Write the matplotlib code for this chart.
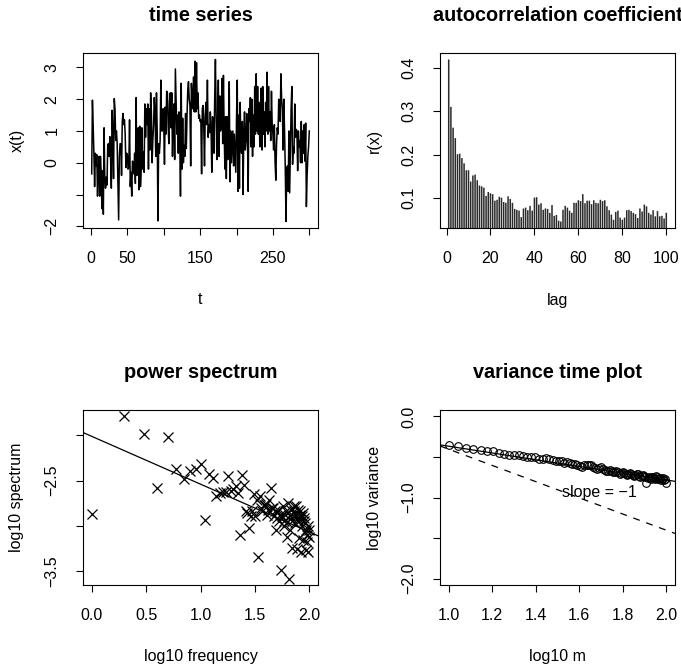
import matplotlib.pyplot as plt
import numpy as np

plt.rcParams['font.family'] = ['Liberation Sans', 'DejaVu Sans']

# serie temporal x(t), t = 1..300
serie = [
    -0.35, 1.97, 1.2, 0.3, -0.75, 0.3, -0.1, 0.25, -1.05, -0.2,
    0.2, -1.05, 0.2, -0.3, -1.45, -0.25, -1.62, 1.1, -0.5, -0.8,
    -0.45, -0.7, 0.55, 0.6, 0.2, 0.82, 0.1, -0.8, 1.65, 0.9,
    -0.5, 2.02, 1.7, 0.7, 1.0, 0.6, -0.6, -1.8, 0.2, 0.6,
    0.6, -0.4, 1.3, 1.55, 1.2, 1.35, 0.9, -0.15, 0.3, 0.25,
    -0.2, -0.15, 1.35, -0.75, -0.3, -1.05, 0.05, 0.0, -0.35, 0.3,
    -0.65, 2.05, -0.4, 0.6, 1.1, -0.85, 1.15, -0.75, -0.2, 1.1,
    -0.2, 0.35, -0.3, 1.85, 0.8, 1.7, 1.2, 1.85, -0.2, 1.7,
    0.4, 2.2, 1.6, 0.0, 0.7, 1.2, 2.05, 1.6, 0.2, 2.2,
    1.0, -1.83, 0.6, 0.3, 0.7, 2.6, 1.0, 1.0, 1.7, 1.2,
    -0.05, 1.75, 0.9, 2.25, 2.2, 1.2, 0.6, 1.95, 2.2, 1.1,
    2.2, 0.2, 1.3, 1.85, 0.1, 2.95, 1.9, 0.9, 1.5, 0.3,
    1.6, 0.9, -1.05, 2.5, -0.2, 1.4, 0.0, 0.55, 0.2, 1.55,
    0.45, 1.5, 2.3, 2.55, 2.0, 1.8, -0.1, 2.5, 2.0, 1.7,
    2.7, 1.6, 3.2, 1.6, 3.15, 1.7, 2.2, 1.4, 1.5, 1.3,
    1.35, -0.35, 1.7, 1.8, 1.1, -0.1, 1.5, 1.9, 1.2, 2.6,
    0.8, 1.2, 0.95, 1.6, 1.1, -0.3, 1.45, 1.3, 0.3, 2.0,
    3.25, 1.5, 0.1, 1.2, 2.6, 0.2, 2.1, 1.0, 1.2, 2.65,
    0.6, 2.75, 1.0, -0.2, 1.45, -0.5, 1.45, 0.1, 1.2, 2.55,
    -0.6, 1.0, 0.0, 0.5, 1.0, -0.1, 0.9, 0.3, -0.3, 1.4,
    2.6, -0.9, 1.5, -0.8, 1.9, 0.5, 0.3, 1.3, -1.0, 0.9,
    1.6, 0.4, 0.7, 1.55, 0.8, -0.9, 1.7, 1.3, 2.05, 0.5,
    2.0, 0.2, 1.5, 0.5, 2.4, 0.9, 2.8, 1.0, 2.4, 0.9,
    1.9, 0.5, 1.3, 2.35, 0.4, 2.4, 0.9, 1.6, 0.5, 1.9,
    1.0, 2.85, 0.9, 2.4, 1.0, 1.6, 0.7, 2.25, 1.2, 0.9,
    0.4, 1.2, 0.0, -0.55, 0.6, 1.1, 0.9, 2.0, 1.6, 1.3,
    2.8, 2.0, 1.7, 0.4, 2.0, 1.0, -0.2, -1.85, -0.2, -0.1,
    -0.9, 1.0, -0.95, 0.3, 1.7, 2.4, -0.05, 0.5, 0.3, 1.85,
    0.8, 1.05, 1.0, -0.25, 1.0, 0.5, 0.7, 0.0, 1.3, 0.0,
    1.0, 0.3, 1.2, 0.05, 1.25, -1.38, -0.4, 0.2, 0.5, 1.0,
]

# autocorrelacao r(x), lag = 1..100
acf = [
    0.419, 0.310, 0.262, 0.238, 0.201, 0.202, 0.192, 0.180, 0.164, 0.164,
    0.138, 0.152, 0.154, 0.141, 0.129, 0.127, 0.124, 0.105, 0.114, 0.111,
    0.109, 0.094, 0.096, 0.103, 0.101, 0.091, 0.089, 0.104, 0.098, 0.089,
    0.075, 0.073, 0.071, 0.056, 0.076, 0.078, 0.072, 0.082, 0.071, 0.101,
    0.102, 0.085, 0.088, 0.073, 0.076, 0.075, 0.066, 0.084, 0.059, 0.061,
    0.048, 0.046, 0.073, 0.082, 0.078, 0.071, 0.066, 0.089, 0.089, 0.095,
    0.093, 0.109, 0.088, 0.094, 0.094, 0.086, 0.095, 0.089, 0.088, 0.096,
    0.093, 0.095, 0.081, 0.072, 0.062, 0.050, 0.068, 0.071, 0.055, 0.050,
    0.055, 0.072, 0.073, 0.070, 0.066, 0.063, 0.054, 0.076, 0.069, 0.085,
    0.081, 0.066, 0.062, 0.072, 0.058, 0.070, 0.058, 0.059, 0.053, 0.066,
]

# log10 do espectro, frequencia k = 1..100
espectro = [
    -2.872, -1.790, -1.980, -2.586, -2.013, -2.370, -2.478, -2.396, -2.377, -2.322,
    -2.935, -2.422, -2.470, -2.675, -2.638, -2.630, -2.630, -2.452, -2.619, -2.593,
    -2.556, -2.638, -3.102, -2.444, -2.552, -2.842, -2.861, -3.028, -2.898, -2.842,
    -2.645, -2.898, -2.712, -3.351, -2.675, -2.805, -2.842, -2.768, -2.768, -2.757,
    -2.879, -2.823, -2.719, -2.582, -2.805, -2.805, -2.898, -2.842, -3.046, -2.916,
    -2.853, -2.823, -2.953, -2.879, -3.493, -2.898, -2.786, -3.009, -2.953, -2.879,
    -2.842, -3.121, -2.965, -2.749, -3.586, -2.898, -3.046, -2.823, -2.953, -3.251,
    -2.898, -2.786, -2.842, -2.972, -2.879, -2.786, -3.262, -2.916, -2.823, -2.953,
    -3.139, -2.879, -2.842, -3.288, -2.898, -3.009, -2.861, -3.158, -2.953, -2.916,
    -3.065, -2.972, -3.270, -3.046, -3.176, -3.102, -3.009, -3.288, -3.121, -3.046,
]
ajuste_espectro = (-2.01, -0.53)   # intercepto, inclinacao

# log10 da variancia, m = 10..100
variancia = [
    -0.349, -0.361, -0.385, -0.405, -0.408, -0.420, -0.432, -0.450, -0.462, -0.472,
    -0.474, -0.480, -0.488, -0.497, -0.494, -0.500, -0.520, -0.530, -0.512, -0.528,
    -0.540, -0.548, -0.545, -0.552, -0.568, -0.556, -0.575, -0.585, -0.592, -0.596,
    -0.612, -0.621, -0.605, -0.600, -0.596, -0.605, -0.625, -0.640, -0.651, -0.635,
    -0.628, -0.648, -0.660, -0.672, -0.668, -0.660, -0.675, -0.690, -0.682, -0.676,
    -0.690, -0.708, -0.700, -0.688, -0.695, -0.712, -0.720, -0.705, -0.698, -0.710,
    -0.725, -0.735, -0.718, -0.708, -0.716, -0.732, -0.745, -0.740, -0.726, -0.738,
    -0.752, -0.815, -0.755, -0.742, -0.760, -0.770, -0.750, -0.745, -0.762, -0.770,
    -0.735, -0.752, -0.775, -0.765, -0.758, -0.778, -0.770, -0.760, -0.782, -0.775,
    -0.820,
]
ajuste_variancia = (-0.367, -0.417)   # valor em log10 m = 1, inclinacao
MENOS = '\u2212'
FS = 11.5

W, H = 681, 669
fig = plt.figure(figsize=(W / 100, H / 100), dpi=100)


def caixa(esq, topo, dir, base):
    """Eixos posicionados em pixels (origem no canto superior esquerdo)."""
    return fig.add_axes([esq / W, 1 - base / H, (dir - esq) / W, (base - topo) / H])


def estilo(ax, titulo, xlab, ylab, xt, xl, yt, yl):
    ax.set_title(titulo, fontsize=14.3, fontweight='bold', pad=23)
    ax.set_xticks(xt, xl)
    ax.set_yticks(yt, yl)
    ax.tick_params(direction='out', length=4.8, width=0.8, labelsize=FS, pad=12)
    ax.tick_params(axis='y', labelrotation=90)
    for lab in ax.get_yticklabels():
        lab.set_va('center')
    for sp in ax.spines.values():
        sp.set_linewidth(0.8)
    ax.set_xlabel(xlab, fontsize=FS, va='center')
    ax.xaxis.set_label_coords(0.5, -72 / 175)
    ax.set_ylabel(ylab, fontsize=FS, va='center')
    ax.yaxis.set_label_coords(-66 / 235, 0.5)


def fmt(v, casas):
    s = f'{v:.{casas}f}'
    return s.replace('-', MENOS)


# --- serie temporal
ax1 = caixa(83, 53, 318, 228)
t = np.arange(1, len(serie) + 1)
ax1.plot(t, serie, color='black', lw=1.1)
n = len(serie)
ax1.set_xlim(1 - 0.04 * (n - 1), n + 0.04 * (n - 1))
lo, hi = min(serie), max(serie)
ax1.set_ylim(lo - 0.04 * (hi - lo), hi + 0.04 * (hi - lo))
estilo(ax1, 'time series', 't', 'x(t)',
       [0, 50, 100, 150, 200, 250, 300], ['0', '50', '', '150', '', '250', ''],
       [-2, -1, 0, 1, 2, 3], [MENOS + '2', '', '0', '1', '2', '3'])

# --- autocorrelacao
ax2 = caixa(440, 53, 675, 228)
lag = np.arange(1, len(acf) + 1)
barras = ax2.vlines(lag, 0, acf, color='#2a2a2a', lw=1.1)
barras.set_snap(False)
ax2.set_xlim(1 - 0.04 * 99, 100 + 0.04 * 99)
lo, hi = min(acf), max(acf)
ax2.set_ylim(lo - 0.04 * (hi - lo), hi + 0.04 * (hi - lo))
estilo(ax2, 'autocorrelation coefficient', 'lag', 'r(x)',
       [0, 20, 40, 60, 80, 100], ['0', '20', '40', '60', '80', '100'],
       [0.1, 0.2, 0.3, 0.4], ['0.1', '0.2', '0.3', '0.4'])

# --- espectro de potencia
ax3 = caixa(83, 410, 318, 585)
freq = np.log10(np.arange(1, len(espectro) + 1))
ax3.plot(freq, espectro, ls='none', marker='x', ms=7, mew=0.9, color='black')
ax3.axline((0, ajuste_espectro[0]), slope=ajuste_espectro[1], color='black', lw=0.9)
ax3.set_xlim(-0.08, 2.08)
lo, hi = min(espectro), max(espectro)
ax3.set_ylim(lo - 0.04 * (hi - lo), hi + 0.04 * (hi - lo))
estilo(ax3, 'power spectrum', 'log10 frequency', 'log10 spectrum',
       [0, 0.5, 1.0, 1.5, 2.0], ['0.0', '0.5', '1.0', '1.5', '2.0'],
       [-2.0, -2.5, -3.0, -3.5], ['', fmt(-2.5, 1), '', fmt(-3.5, 1)])

# --- variancia x tempo
ax4 = caixa(440, 410, 675, 585)
logm = np.log10(np.arange(10, 10 + len(variancia)))
ax4.plot(logm, variancia, ls='none', marker='o', ms=5.5, mfc='none', mew=0.8, color='black')
ax4.axline((1, ajuste_variancia[0]), slope=ajuste_variancia[1], color='black', lw=0.9)
ax4.axline((1, -0.404), slope=-1, color='black', lw=0.9, ls=(0, (5.5, 5.5)))
ax4.text(1.694, -0.943, 'slope = ' + MENOS + '1', fontsize=FS, ha='center', va='center')
ax4.set_xlim(0.96, 2.04)
ax4.set_ylim(-2.08, 0.08)
estilo(ax4, 'variance time plot', 'log10 m', 'log10 variance',
       [1.0, 1.2, 1.4, 1.6, 1.8, 2.0], ['1.0', '1.2', '1.4', '1.6', '1.8', '2.0'],
       [0.0, -0.5, -1.0, -1.5, -2.0], ['0.0', '', fmt(-1.0, 1), '', fmt(-2.0, 1)])

fig.savefig('out.png', dpi=100)
